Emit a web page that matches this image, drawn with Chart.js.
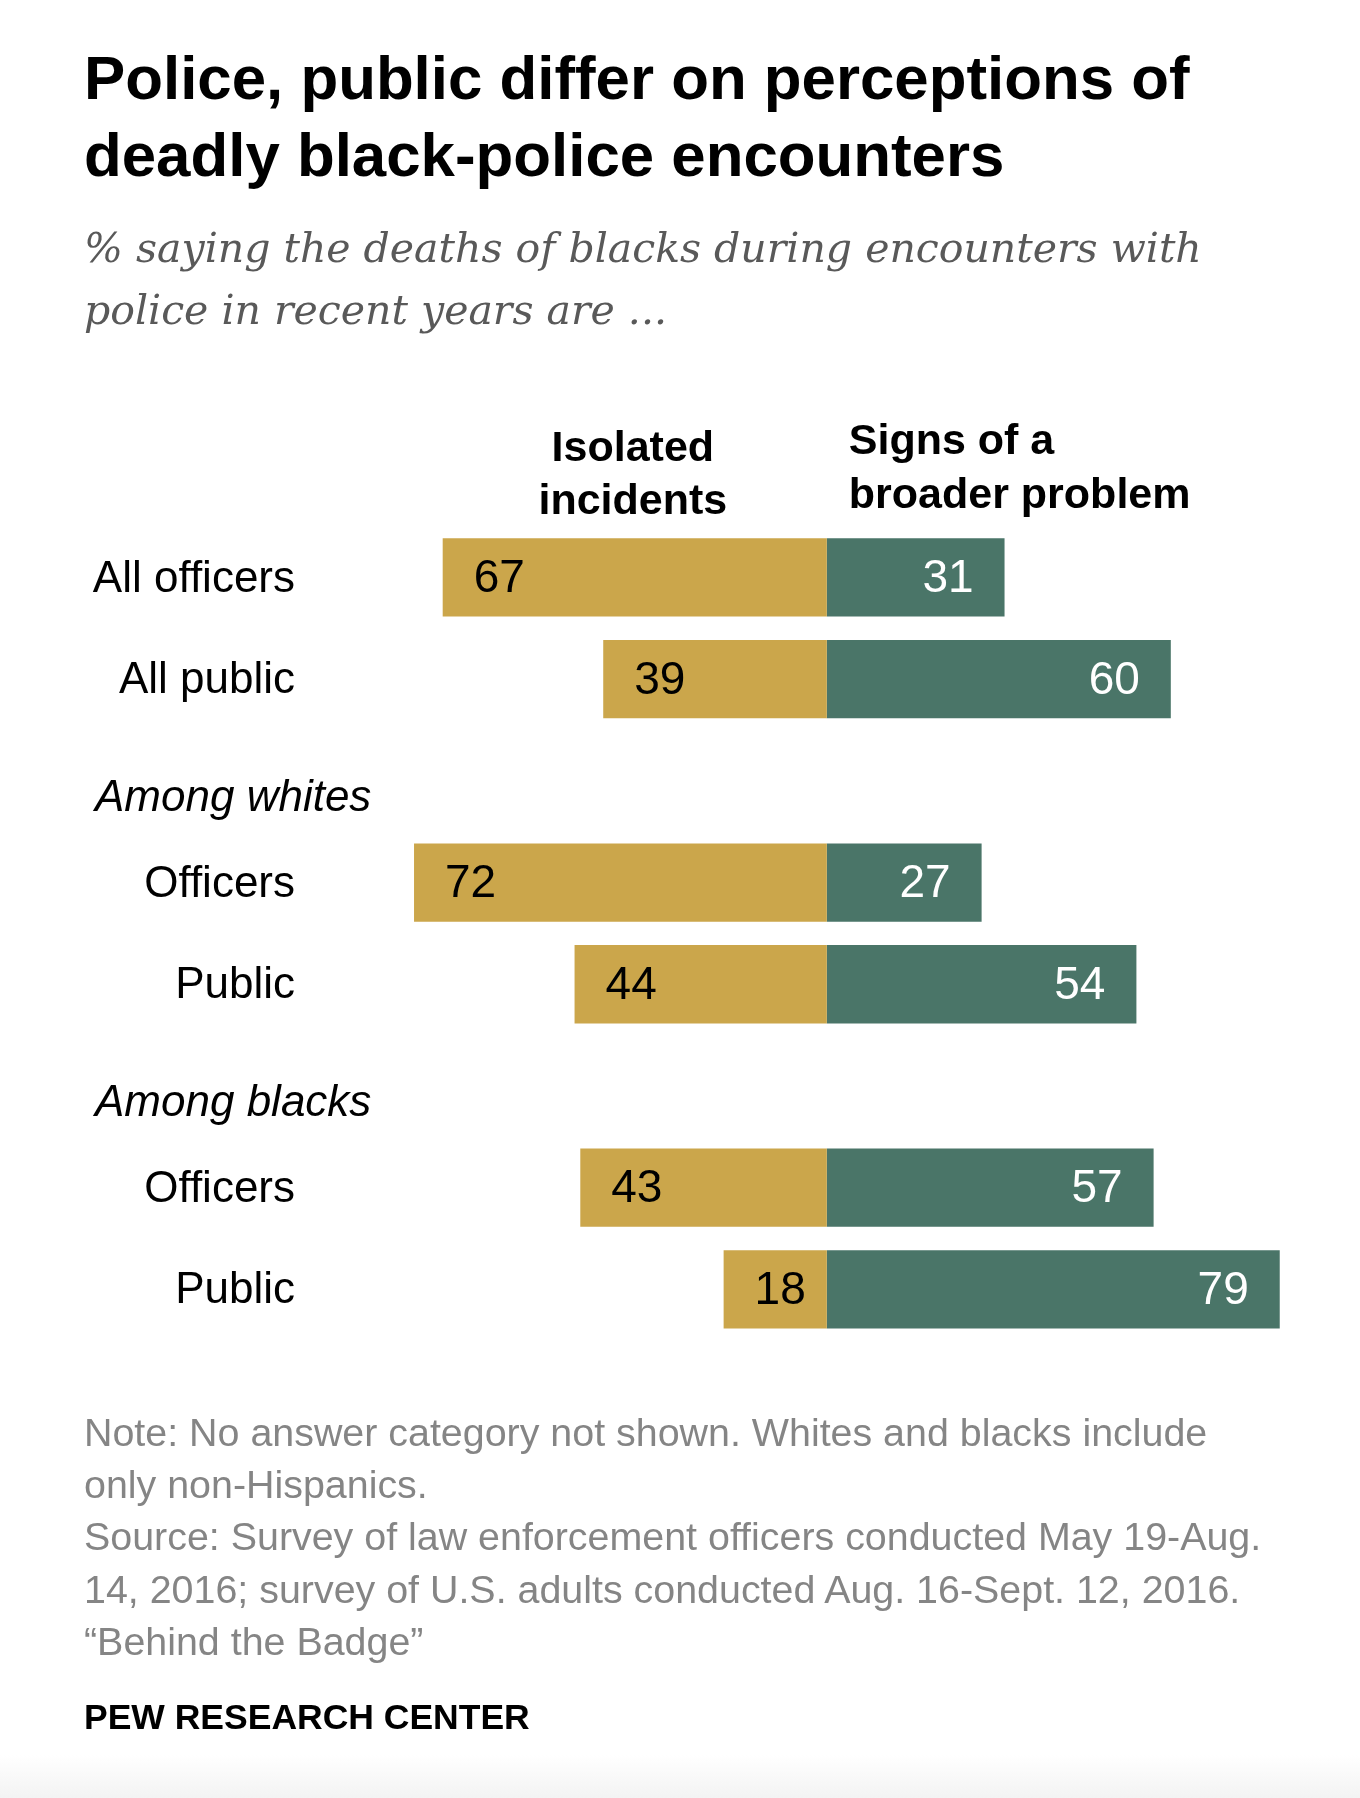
<!DOCTYPE html>
<html>
<head>
<meta charset="utf-8">
<script src="https://cdn.jsdelivr.net/npm/chart.js@4.4.1/dist/chart.umd.min.js"></script>
<style>
  body { margin: 0; background: #fff; }
  #page { position: relative; width: 1360px; height: 1798px; overflow: hidden; font-family: "Liberation Sans", Arial, sans-serif; }
  #chart { position: absolute; left: 0; top: 0; }
  .title { position: absolute; left: 84px; top: 39px; font-size: 61.8px; line-height: 77.4px; font-weight: bold; color: #000; white-space: nowrap; }
  .subtitle { position: absolute; left: 84px; top: 217px; font-family: "DejaVu Serif", Georgia, serif; font-style: italic; font-size: 41px; line-height: 62px; color: #595959; white-space: nowrap; }
  .note { position: absolute; left: 84px; top: 1406px; font-size: 39.4px; line-height: 52.2px; color: #858585; white-space: nowrap; }
  .credit { position: absolute; left: 84px; top: 1699px; font-size: 35.5px; line-height: 36px; font-weight: bold; color: #000; }
  .shade { position: absolute; left: 0; top: 1755px; width: 1360px; height: 43px; background: linear-gradient(to bottom, #fff, #f3f3f3); }
</style>
</head>
<body>
<div id="page">
  <canvas id="chart" width="1360" height="1798"></canvas>
  <div class="title">Police, public differ on perceptions of<br>deadly black-police encounters</div>
  <div class="subtitle">% saying the deaths of blacks during encounters with<br>police in recent years are ...</div>
  <div class="note">Note: No answer category not shown. Whites and blacks include<br>only non-Hispanics.<br>Source: Survey of law enforcement officers conducted May 19-Aug.<br>14, 2016; survey of U.S. adults conducted Aug. 16-Sept. 12, 2016.<br>&ldquo;Behind the Badge&rdquo;</div>
  <div class="credit">PEW RESEARCH CENTER</div>
  <div class="shade"></div>
</div>
<script>
const rowLabels = ['All officers', 'All public', 'Among whites', 'Officers', 'Public', 'Among blacks', 'Officers', 'Public'];
const groupRows = [2, 5];
const isolated = [67, 39, null, 72, 44, null, 43, 18];
const broader = [31, 60, null, 27, 54, null, 57, 79];
const headerIsolated = ['Isolated', 'incidents'];
const headerBroader = ['Signs of a', 'broader problem'];

const GOLD = '#CBA64B';
const GREEN = '#4A7568';
const SANS = '"Liberation Sans", Arial, sans-serif';

const labelsPlugin = {
  id: 'pewLabels',
  afterDatasetsDraw(chart) {
    const ctx = chart.ctx;
    const y = chart.scales.y;
    const x = chart.scales.x;
    const zero = x.getPixelForValue(0);
    ctx.save();

    // column headers
    ctx.fillStyle = '#000';
    ctx.font = 'bold 43px ' + SANS;
    ctx.textBaseline = 'alphabetic';
    ctx.textAlign = 'center';
    ctx.fillText(headerIsolated[0], zero - 194, 461);
    ctx.fillText(headerIsolated[1], zero - 194, 514);
    ctx.textAlign = 'left';
    ctx.fillText(headerBroader[0], zero + 22, 454);
    ctx.fillText(headerBroader[1], zero + 22, 508);

    // row labels
    ctx.textBaseline = 'middle';
    rowLabels.forEach((lab, i) => {
      const py = y.getPixelForValue(i) + 2;
      if (groupRows.includes(i)) {
        ctx.font = 'italic 44px ' + SANS;
        ctx.textAlign = 'left';
        ctx.fillText(lab, 95, py + 16);
      } else {
        ctx.font = '44px ' + SANS;
        ctx.textAlign = 'right';
        ctx.fillText(lab, 295, py);
      }
    });

    // value labels
    ctx.font = '46px ' + SANS;
    chart.getDatasetMeta(0).data.forEach((bar, i) => {
      if (isolated[i] == null) return;
      ctx.fillStyle = '#000';
      ctx.textAlign = 'left';
      ctx.fillText(String(isolated[i]), bar.x + 31, bar.y + 2);
    });
    chart.getDatasetMeta(1).data.forEach((bar, i) => {
      if (broader[i] == null) return;
      ctx.fillStyle = '#fff';
      ctx.textAlign = 'right';
      ctx.fillText(String(broader[i]), bar.x - 31, bar.y + 2);
    });
    ctx.restore();
  }
};

new Chart(document.getElementById('chart'), {
  type: 'bar',
  data: {
    labels: rowLabels,
    datasets: [
      {
        label: 'Isolated incidents',
        data: isolated.map(v => v == null ? null : -v),
        backgroundColor: GOLD
      },
      {
        label: 'Signs of a broader problem',
        data: broader,
        backgroundColor: GREEN
      }
    ]
  },
  options: {
    indexAxis: 'y',
    responsive: false,
    animation: false,
    events: [],
    barPercentage: 0.77,
    categoryPercentage: 1,
    layout: { padding: { top: 526.6, bottom: 457.8, left: 253.5, right: 17.2 } },
    scales: {
      x: { stacked: true, min: -100, max: 90, display: false },
      y: { stacked: true, display: false }
    },
    plugins: {
      legend: { display: false },
      tooltip: { enabled: false }
    }
  },
  plugins: [labelsPlugin]
});
</script>
</body>
</html>
